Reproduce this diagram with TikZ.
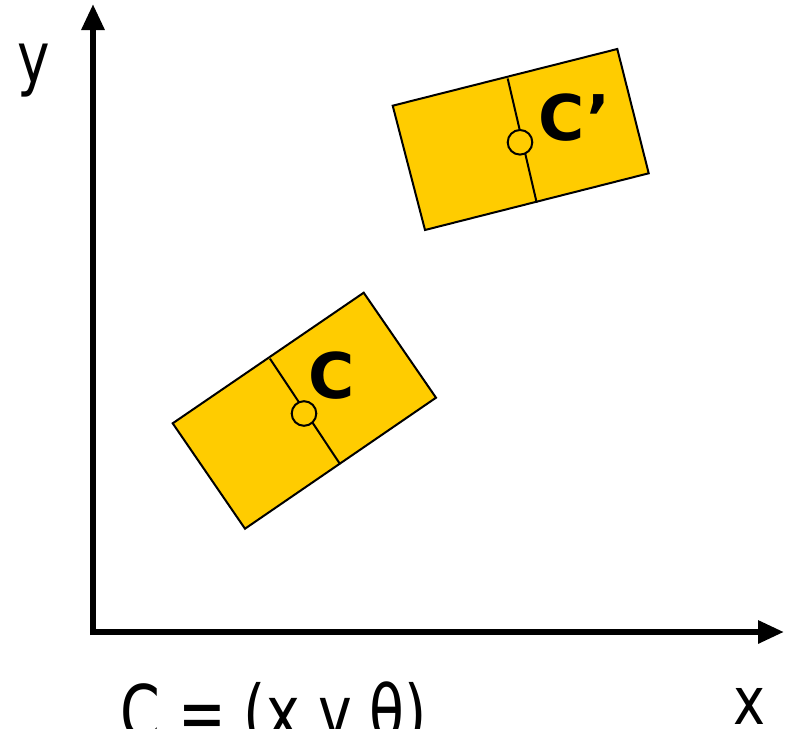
\documentclass[tikz,border=0pt]{standalone}
\usepackage{fontspec}
\usepackage{graphicx}
\setmainfont{DejaVu Sans}
\usetikzlibrary{arrows.meta}
\definecolor{gold}{HTML}{FFCC00}
\tikzset{
  axis/.style={line width=6pt, -{Triangle[width=22pt,length=26pt]}},
  body/.style={draw=black, line width=2pt, fill=gold, line join=miter},
  divider/.style={draw=black, line width=2pt},
  pivot/.style={draw=black, line width=2pt, fill=gold},
  biglabel/.style={font=\fontsize{63}{66}\bfseries\selectfont, inner sep=0pt, anchor=base west},
  axislabel/.style={font=\fontsize{55}{60}\selectfont, inner sep=0pt, anchor=base west},
  formula/.style={font=\fontsize{57}{60}\selectfont, inner sep=0pt, anchor=base west}
}
\begin{document}
\begin{tikzpicture}[x=1pt,y=-1pt]
\useasboundingbox (0,0) rectangle (786,728);
% axes
\coordinate (O) at (93,632);
\coordinate (Ytip) at (93,4);
\coordinate (Xtip) at (784,632);
\draw[axis] (93,635) -- (Ytip);
\draw[axis] (90,632) -- (Xtip);
% lower body
\draw[body] (172.7,423.3) -- (363.7,292.7) -- (436,397.7) -- (245,528.7) -- cycle;
\coordinate (d1a) at (270,358.7);
\coordinate (d1b) at (340,464);
\draw[divider] (d1a) -- (d1b);
\node[pivot, circle, minimum size=24.6pt, inner sep=0pt] (p1) at (304,413.5) {};
\node[biglabel] (c1) at (308,398) {C};
% upper body
\draw[body] (392.7,105.7) -- (617.3,49) -- (648.7,173.3) -- (425,230) -- cycle;
\coordinate (d2a) at (507.7,78.5);
\coordinate (d2b) at (536.7,202.7);
\draw[divider] (d2a) -- (d2b);
\node[pivot, circle, minimum size=24.6pt, inner sep=0pt] (p2) at (520,142.3) {};
\node[biglabel] (c2) at (538,140) {C’};
% labels
\node[axislabel] (ylab) at (17,82) {\scalebox{1}[1.28]{y}};
\node[axislabel, font=\fontsize{54}{60}\selectfont] (xlab) at (733.5,724) {\scalebox{1}[1.22]{x}};
\node[formula] (form) at (120,739) {\scalebox{1}[1.32]{C = (x,y,θ)}};
\end{tikzpicture}
\end{document}
